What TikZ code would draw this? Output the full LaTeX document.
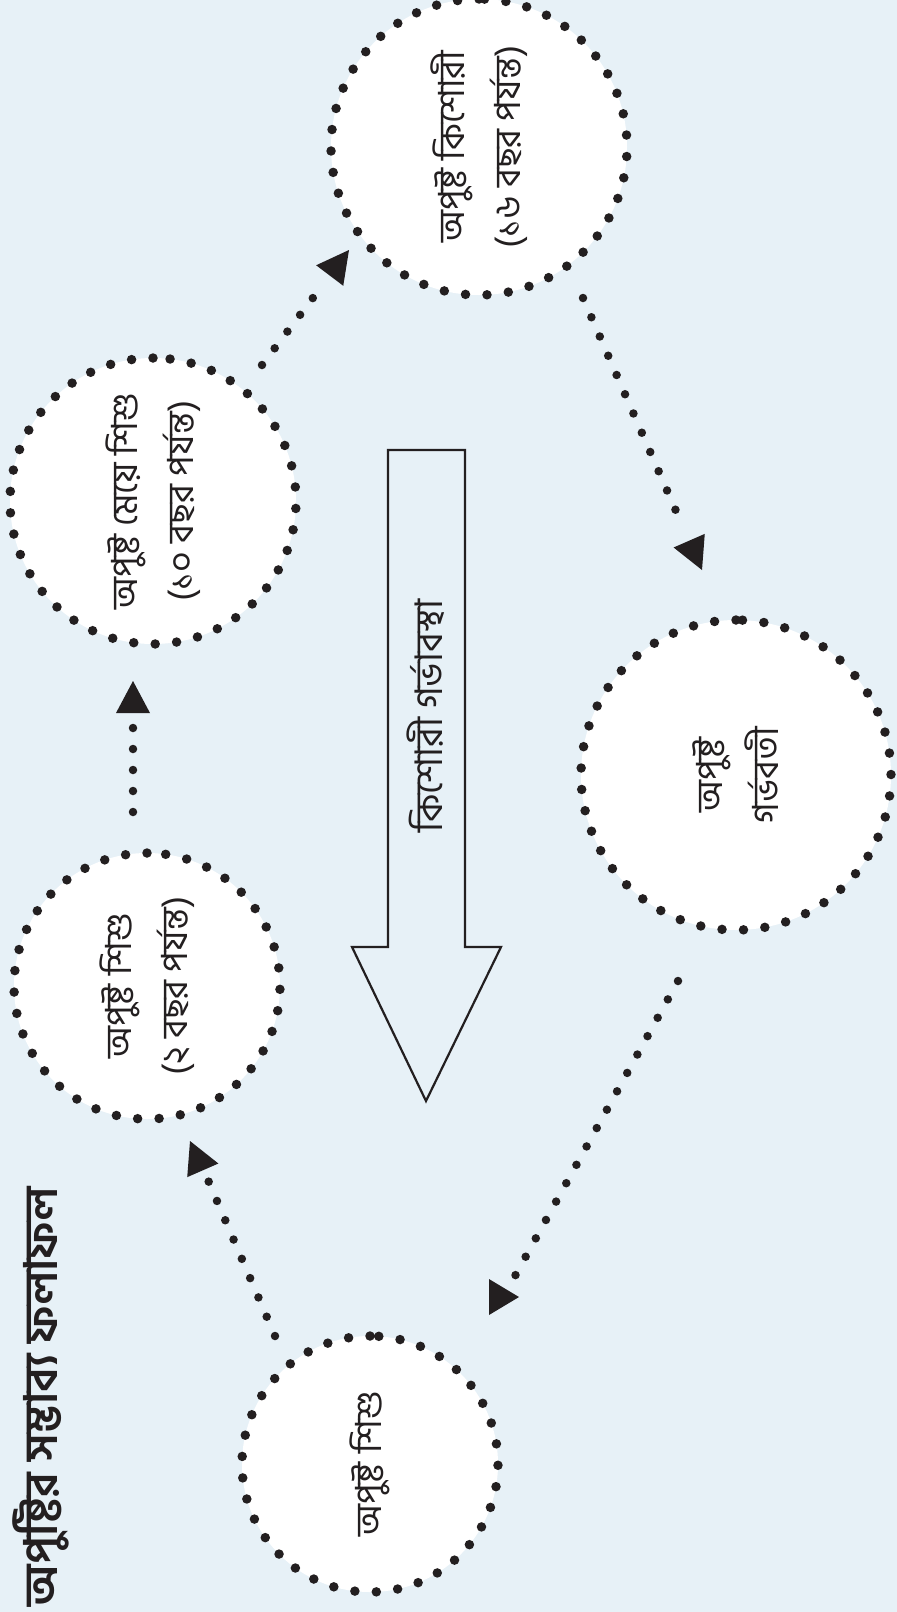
\documentclass[tikz,border=0pt]{standalone}
\usepackage{fontspec}
\newfontfamily\bn[Script=Bengali]{Hind Siliguri}
\usetikzlibrary{arrows.meta}
\definecolor{bg}{RGB}{231,241,247}
\definecolor{ink}{RGB}{35,31,32}
\begin{document}
\begin{tikzpicture}[x=1pt,y=-1pt,
  stage/.style={circle, fill=white, draw=ink, line width=9.5pt,
    dash pattern=on 0pt off 21.5pt, line cap=round,
    minimum size=#1, inner sep=0pt, rotate=90, align=center,
    font=\bn\fontsize{36}{56}\selectfont, text=ink},
  conn/.style={draw=ink, line width=8.5pt, dash pattern=on 0pt off 21pt, line cap=round},
  tipshape/.style={fill=ink},
  lbl/.style={rotate=90, text=ink, inner sep=0pt}]
\fill[bg] (0,0) rectangle (897,1612);
\useasboundingbox (0,0) rectangle (897,1612);

% title
\node[lbl, font=\bn\bfseries\fontsize{46}{50}\selectfont] (title) at (41,1397) {অপুষ্টির সম্ভাব্য ফলাফল};

% stages
\node[stage=256pt] (A) at (370,1464) {অপুষ্ট শিশু};
\node[stage=266pt] (B) at (147,986) {অপুষ্ট শিশু\\(২ বছর পর্যন্ত)};
\node[stage=286pt] (C) at (153,501) {অপুষ্ট মেয়ে শিশু\\(১০ বছর পর্যন্ত)};
\node[stage=296pt] (D) at (479,147) {অপুষ্ট কিশোরী\\(১৬ বছর পর্যন্ত)};
\node[stage=310pt] (E) at (736,775) {অপুষ্ট\\গর্ভবতী};

% big hollow arrow
\draw[ink, line width=2.2pt, fill=bg] (388,450) -- (465,450) -- (465,947) -- (501,947)
  -- (426,1101) -- (352,947) -- (388,947) -- cycle;
\node[lbl, font=\bn\fontsize{38}{40}\selectfont] (mid) at (426,716) {কিশোরী গর্ভাবস্থা};

% connector end points
\coordinate (sAB) at (275,1336); \coordinate (eAB) at (208,1180); \coordinate (tAB) at (190,1141);
\coordinate (sBC) at (133,812);  \coordinate (eBC) at (133,722);  \coordinate (tBC) at (133,681);
\coordinate (sCD) at (262,365);  \coordinate (eCD) at (325,282);  \coordinate (tCD) at (349,250);
\coordinate (sDE) at (583,298);  \coordinate (eDE) at (683,527);  \coordinate (tDE) at (702,570);
\coordinate (sEA) at (678,981);  \coordinate (eEA) at (515,1276); \coordinate (tEA) at (519,1297);

\draw[conn] (sAB) -- (eAB);
\draw[conn] (sBC) -- (eBC);
\draw[conn] (sCD) -- (eCD);
\draw[conn] (sDE) -- (eDE);
\draw[conn] (sEA) -- (eEA);

\fill[tipshape, shift={(tAB)}, rotate=113.6] (0,0) -- (-32,-17) -- (-32,17) -- cycle;
\fill[tipshape, shift={(tBC)}, rotate=90] (0,0) -- (-32,-17) -- (-32,17) -- cycle;
\fill[tipshape, shift={(tCD)}, rotate=52.9] (0,0) -- (-32,-17) -- (-32,17) -- cycle;
\fill[tipshape, shift={(tDE)}, rotate=-66.4] (0,0) -- (-32,-17) -- (-32,17) -- cycle;
\fill[tipshape, shift={(tEA)}, rotate=0] (0,0) -- (-30,-18) -- (-30,18) -- cycle;
\end{tikzpicture}
\end{document}
